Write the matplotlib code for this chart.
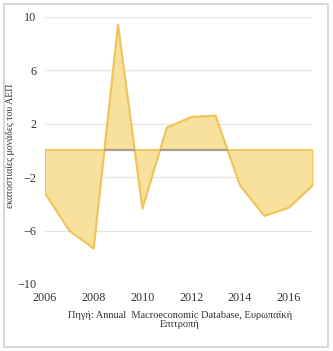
import numpy as np
from matplotlib import pyplot as plt
from matplotlib.patches import Rectangle

years = [2006, 2007, 2008, 2009, 2010, 2011, 2012, 2013, 2014, 2015, 2016, 2017]
values = [-3.2, -6.0, -7.35, 9.4, -4.35, 1.7, 2.5, 2.6, -2.6, -4.9, -4.3, -2.6]
yticks = [-10, -6, -2, 2, 6, 10]
xticks = [2006, 2008, 2010, 2012, 2014, 2016]

FILL = "#f8e19c"
EDGE = "#efc55c"

plt.rcParams['font.family'] = ['Liberation Serif', 'DejaVu Serif']

fig = plt.figure(figsize=(3.33, 3.51), dpi=100)
ax = fig.add_axes([0.135, 0.191, 0.805, 0.761])

x = np.array(years, dtype=float)
y = np.array(values)
ax.fill_between(x, y, 0, color=FILL, linewidth=0, zorder=2)
ax.plot(x, y, color=EDGE, linewidth=1.6, zorder=3)
ax.plot([x[0], x[0]], [0, y[0]], color=EDGE, linewidth=1.6, zorder=3)
ax.plot([x[-1], x[-1]], [0, y[-1]], color=EDGE, linewidth=1.6, zorder=3)
ax.axhline(0, xmin=0, xmax=1, color=EDGE, linewidth=1.4, zorder=3)

# grey shadow on baseline where the area lies above zero
for i in range(len(x) - 1):
    y0, y1 = y[i], y[i + 1]
    if y0 <= 0 and y1 <= 0:
        continue
    a = x[i] if y0 > 0 else x[i] + y0 / (y0 - y1)
    b = x[i + 1] if y1 > 0 else x[i] + y0 / (y0 - y1)
    ax.plot([a, b], [0, 0], color="#a8a08c", linewidth=1.6, zorder=4,
            solid_capstyle='butt')

ax.set_xlim(2006, 2017)
ax.set_ylim(-10, 10)
ax.set_yticks(yticks)
ax.set_xticks(xticks)
ax.tick_params(length=0, labelsize=8.7, colors='#333333', pad=6)
ax.grid(axis='y', color='#e4e4e4', linewidth=0.9, zorder=0)
for s in ax.spines.values():
    s.set_visible(False)

ax.set_ylabel('εκατοστιαίες μονάδες του ΑΕΠ', fontsize=7.1, color='#333333')
ax.yaxis.set_label_coords(-0.11, 0.517)

fig.text(0.54, 0.088, 'Πηγή: Annual  Macroeconomic Database, Ευρωπαϊκή\nΕπιτροπή',
         ha='center', va='center', fontsize=7.5, color='#333333',
         linespacing=1.1)

fig.patches.append(Rectangle((0.012, 0.012), 0.972, 0.978, transform=fig.transFigure,
                             fill=False, edgecolor='#d9d9d9', linewidth=1.5))

fig.savefig('out.png', dpi=100)
